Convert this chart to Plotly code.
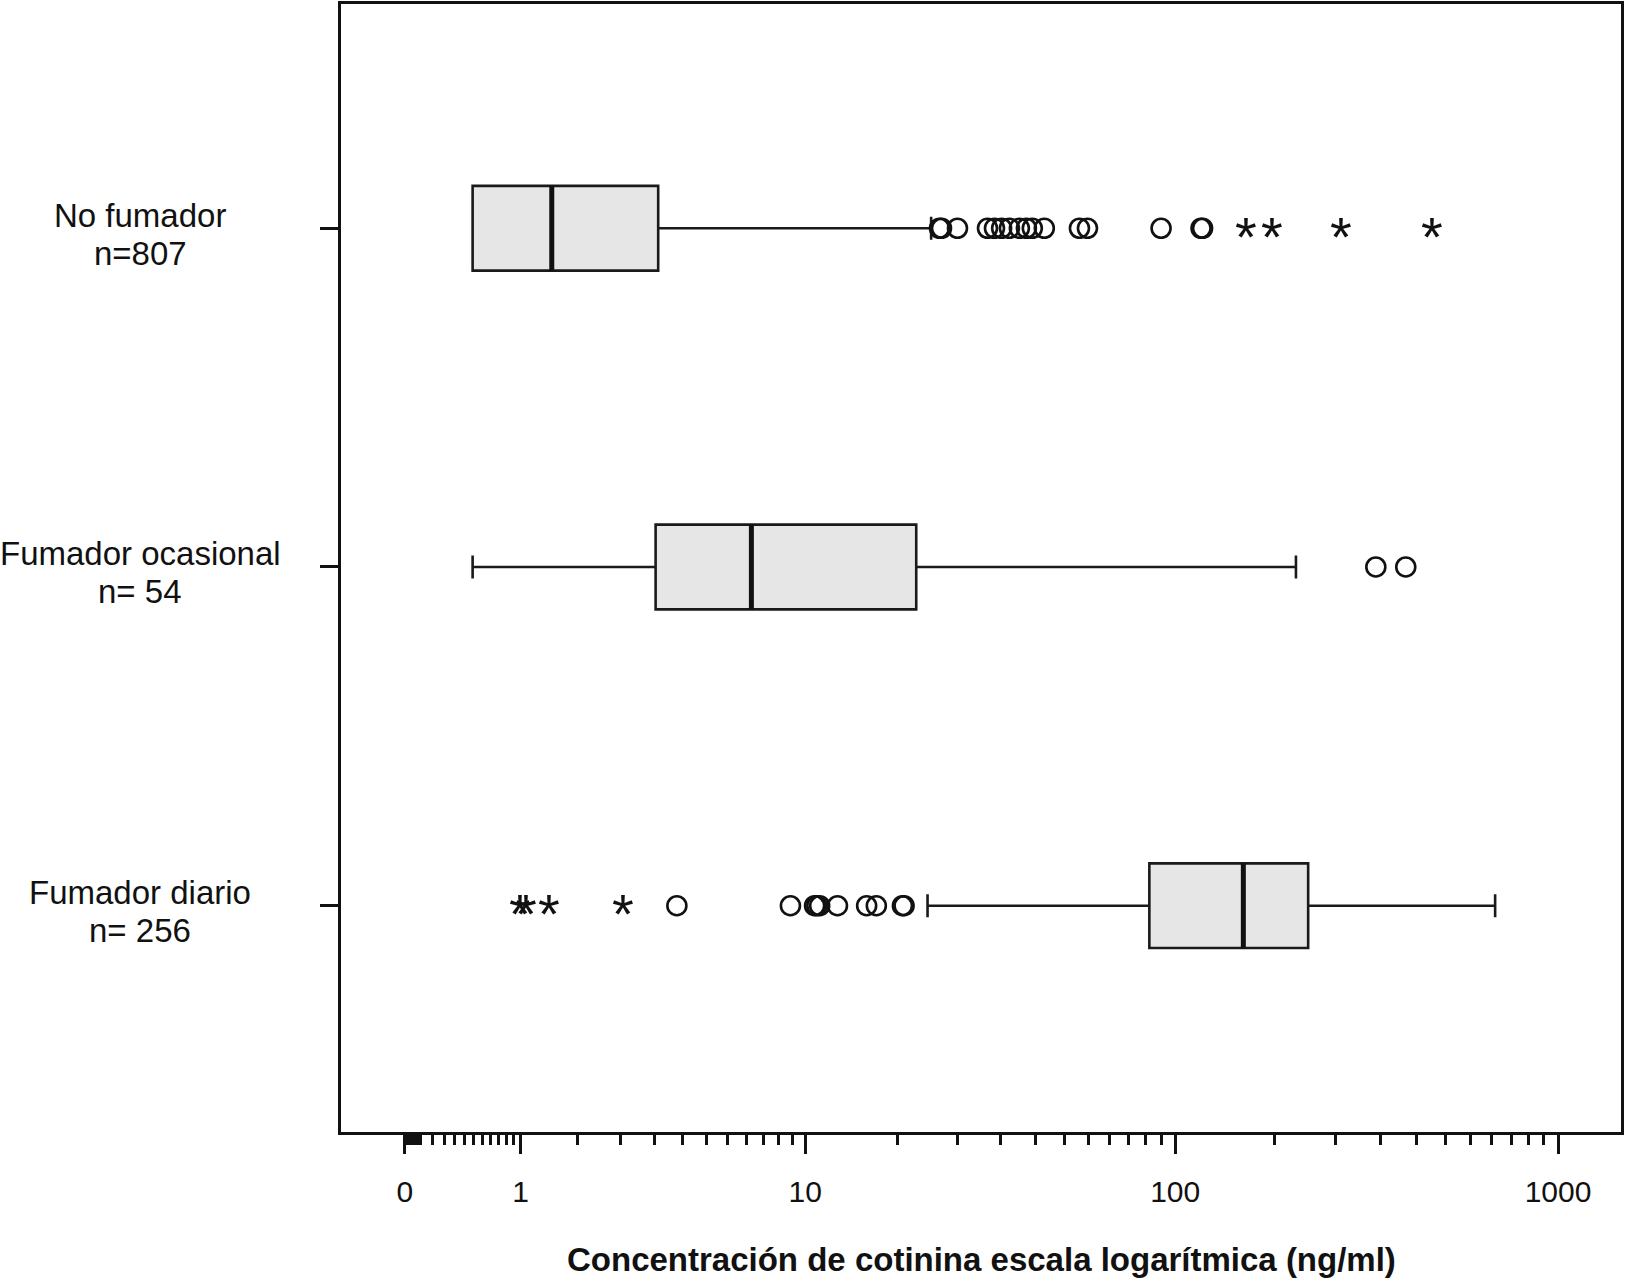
import numpy as np
import plotly.graph_objects as go

# ---------------- data (ng/ml) ----------------
categories = ["No fumador", "Fumador ocasional", "Fumador diario"]
n_labels = ["n=807", "n= 54", "n= 256"]
q1 = [0.50, 3.49, 85.5]
median = [1.41, 6.97, 150.9]
q3 = [3.56, 20.4, 223.0]
lower = [0.50, 0.50, 21.9]
upper = [22.4, 207.2, 685.7]

circles_no = [23.6, 23.9, 26.4, 31.8, 33.2, 34.7, 36.4, 38.7, 40.4, 41.9, 45.1,
              55.9, 58.7, 91.8, 116.9, 118.0]
stars_no = [153.3, 179.7, 271.6, 470.0]
circles_oc = [335.0, 401.0]
stars_oc = []
circles_di = [4.1, 9.07, 10.64, 10.8, 11.0, 12.35, 14.9, 15.85, 18.7, 18.9]
stars_di = [0.99, 1.06, 1.37, 2.69]

circles = [circles_no, circles_oc, circles_di]
stars = [stars_no, stars_oc, stars_di]

major_vals = [0, 1, 10, 100, 1000]
major_text = ["0", "1", "10", "100", "1000"]
minor_decades = [0.0001, 0.001, 0.01, 0.1, 1, 10, 100]


def t(v):
    return np.log10(np.asarray(v, dtype=float) + 1.0)


minor_vals = []
for d in minor_decades:
    for k in range(0, 11):
        minor_vals.append(d + k * 9 * d / 11)

FONT = "Liberation Sans, Arial, sans-serif"
BOXW = 0.25

fig = go.Figure()

for i in range(len(categories)):
    fig.add_trace(go.Box(
        y=[i], q1=[t(q1[i])], median=[t(median[i])], q3=[t(q3[i])],
        lowerfence=[t(lower[i])], upperfence=[t(upper[i])],
        orientation="h", width=BOXW, whiskerwidth=0.27,
        fillcolor="#e6e6e6", line=dict(color="#1a1a1a", width=2.6),
        boxpoints=False, showlegend=False, hoverinfo="skip"))
    # thick median line
    fig.add_trace(go.Scatter(
        x=[t(median[i]), t(median[i])], y=[i - BOXW / 2, i + BOXW / 2],
        mode="lines", line=dict(color="#111111", width=5),
        showlegend=False, hoverinfo="skip"))
    if circles[i]:
        fig.add_trace(go.Scatter(
            x=t(circles[i]), y=[i] * len(circles[i]), mode="markers",
            marker=dict(symbol="circle-open", size=19, color="#111111",
                        line=dict(width=2.6, color="#111111")),
            showlegend=False, hoverinfo="skip"))

annotations = []
for i in range(len(categories)):
    for s in stars[i]:
        annotations.append(dict(
            x=float(t(s)), y=i, xref="x", yref="y", text="*", showarrow=False,
            font=dict(family=FONT, size=56, color="#111111"),
            xanchor="center", yanchor="middle", yshift=-8))
    annotations.append(dict(
        x=-0.157, y=i, xref="paper", yref="y", text=categories[i],
        showarrow=False, xanchor="center", yanchor="middle", yshift=13,
        font=dict(family=FONT, size=33, color="#111111")))
    annotations.append(dict(
        x=-0.157, y=i, xref="paper", yref="y", text=n_labels[i],
        showarrow=False, xanchor="center", yanchor="middle", yshift=-25,
        font=dict(family=FONT, size=33, color="#111111")))

annotations.append(dict(
    x=0.5, y=-0.113, xref="paper", yref="paper",
    text="<b>Concentración de cotinina escala logarítmica (ng/ml)</b>",
    showarrow=False, xanchor="center", yanchor="middle",
    font=dict(family=FONT, size=33, color="#111111")))

fig.update_layout(
    width=1625, height=1283,
    margin=dict(l=341, r=3, t=1, b=151),
    paper_bgcolor="white", plot_bgcolor="white",
    font=dict(family=FONT, size=30, color="#111111"),
    annotations=annotations,
    xaxis=dict(
        range=[-0.1664, 3.1643], showgrid=False, zeroline=False,
        showline=True, mirror=True, linecolor="#111111", linewidth=2.5,
        tickmode="array", tickvals=[float(v) for v in t(major_vals)],
        ticktext=major_text, ticks="outside", ticklen=19, tickwidth=3,
        tickcolor="#111111", ticklabelstandoff=12,
        tickfont=dict(family=FONT, size=30, color="#111111"),
        minor=dict(tickmode="array", tickvals=[float(v) for v in t(minor_vals)],
                   ticks="outside", ticklen=10, tickwidth=2.5,
                   tickcolor="#111111", showgrid=False),
    ),
    yaxis=dict(
        range=[2.668, -0.662], showgrid=False, zeroline=False,
        showline=True, mirror=True, linecolor="#111111", linewidth=2.5,
        tickmode="array", tickvals=[0, 1, 2], ticks="outside", ticklen=18,
        tickwidth=3, tickcolor="#111111", showticklabels=False,
    ),
)

fig.write_html("out.html",
               config={"displayModeBar": False},
               post_script="document.body.style.margin='0px';"
                           "document.body.style.overflow='hidden';")
